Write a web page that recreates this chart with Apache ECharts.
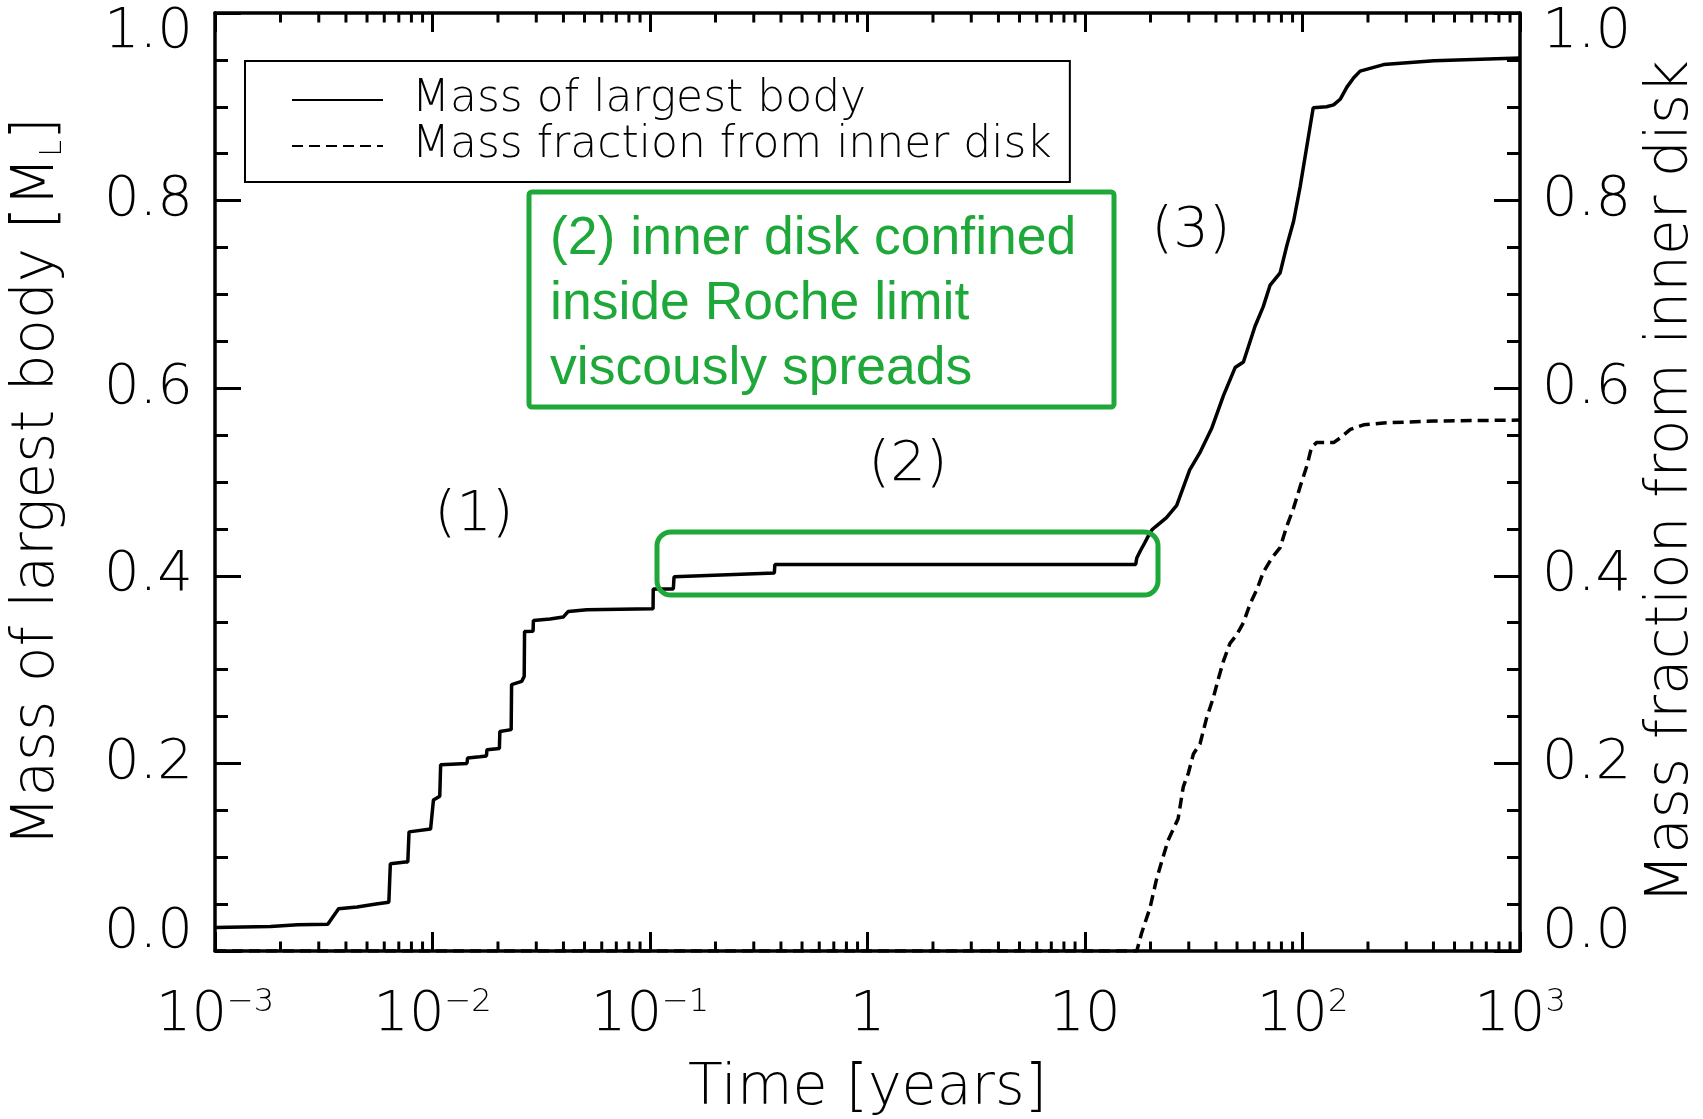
<!DOCTYPE html>
<html><head><meta charset="utf-8">
<script src="https://cdn.jsdelivr.net/npm/echarts@6/dist/echarts.min.js"></script>
<style>html,body{margin:0;padding:0;background:#fff}#c{width:1703px;height:1119px}</style>
</head><body><div id="c"></div><script>
// ---- data ----
const massTime = [0.001, 0.0018, 0.0024, 0.0033, 0.0037, 0.0045, 0.0055, 0.0063, 0.0064, 0.0075, 0.0077, 0.0078, 0.0098, 0.0099, 0.0101, 0.0108, 0.0109, 0.0144, 0.0145, 0.0165, 0.0177, 0.0178, 0.0203, 0.0204, 0.0230, 0.0231, 0.0257, 0.0264, 0.0265, 0.0290, 0.0291, 0.0347, 0.0399, 0.0421, 0.0512, 0.1033, 0.1035, 0.128, 0.129, 0.373, 0.375, 17.1, 17.3, 18.0, 18.8, 19.5, 20.3, 21.0, 23.7, 26.4, 30.3, 33.7, 38.2, 43.3, 49.0, 53.5, 60.5, 66.0, 71.0, 78.9, 84.7, 91.0, 97.5, 112, 114, 129, 139, 149, 160, 172, 184, 236, 402, 1000];
const massLargest = [0.025, 0.026, 0.028, 0.0285, 0.045, 0.047, 0.050, 0.052, 0.093, 0.095, 0.095, 0.127, 0.130, 0.130, 0.161, 0.165, 0.1986, 0.200, 0.2058, 0.207, 0.208, 0.2146, 0.216, 0.234, 0.236, 0.284, 0.2874, 0.2928, 0.3407, 0.341, 0.3524, 0.354, 0.356, 0.362, 0.3638, 0.365, 0.386, 0.386, 0.399, 0.403, 0.412, 0.412, 0.419, 0.427, 0.435, 0.442, 0.449, 0.452, 0.462, 0.475, 0.513, 0.531, 0.557, 0.592, 0.622, 0.628, 0.666, 0.687, 0.710, 0.723, 0.752, 0.778, 0.8145, 0.899, 0.900, 0.900, 0.902, 0.908, 0.921, 0.931, 0.938, 0.945, 0.949, 0.952];
const innerTime = [0.001, 17.3, 18.2, 19.9, 21.3, 22.5, 24.1, 26.8, 28.3, 29.9, 31.5, 33.8, 36.2, 38.9, 41.0, 43.3, 46.4, 49.8, 53.5, 57.4, 61.6, 66.1, 72.3, 78.9, 84.7, 90.9, 97.5, 105, 110, 116, 139, 149, 166, 191, 236, 402, 1000];
const innerFraction = [0, 0, 0.019, 0.046, 0.076, 0.095, 0.118, 0.141, 0.175, 0.190, 0.210, 0.221, 0.248, 0.270, 0.290, 0.309, 0.328, 0.337, 0.350, 0.370, 0.385, 0.404, 0.419, 0.430, 0.453, 0.472, 0.495, 0.518, 0.537, 0.542, 0.542, 0.547, 0.556, 0.561, 0.563, 0.565, 0.566];

const seriesNames = ['Mass of largest body', 'Mass fraction from inner disk'];
const xTickValues = [0.001, 0.01, 0.1, 1, 10, 100, 1000];
const xTickLabels = ['10{sup|\u22123}', '10{sup|\u22122}', '10{sup|\u22121}', '1', '10', '10{sup|2}', '10{sup|3}'];
const yTickValues = [0, 0.2, 0.4, 0.6, 0.8, 1.0];
const yTickLabels = ['0.0', '0.2', '0.4', '0.6', '0.8', '1.0'];
const xMinorMultipliers = [2, 3, 4, 5, 6, 7, 8, 9];
const annotationText = ['(2) inner disk confined', 'inside Roche limit', 'viscously spreads'];
const phaseLabels = ['(1)', '(2)', '(3)'];

// minor tick values for the log axis (positions go through the axis scale)
const xMinorTicks = [];
for (let i = 0; i < xTickValues.length - 1; i++) {
  xMinorMultipliers.forEach(m => xMinorTicks.push([xTickValues[i] * m, 0]));
}

const FONT = "'DejaVu Sans', sans-serif";
const GREEN = '#1fa83a';
const BLACK = '#000';

function xLabel(v) {
  for (let i = 0; i < xTickValues.length; i++) {
    if (Math.abs(v - xTickValues[i]) / xTickValues[i] < 1e-6) return xTickLabels[i];
  }
  return '';
}
function yLabel(v) {
  for (let i = 0; i < yTickValues.length; i++) {
    if (Math.abs(v - yTickValues[i]) < 1e-6) return yTickLabels[i];
  }
  return '';
}

const chart = echarts.init(document.getElementById('c'), null, {renderer: 'canvas'});

const xAxisCommon = {
  type: 'log', logBase: 10, min: 0.001, max: 1000,
  splitLine: {show: false},
  axisLine: {show: true, onZero: false, lineStyle: {color: BLACK, width: 3.5}},
  axisTick: {show: true, inside: true, length: 19, lineStyle: {color: BLACK, width: 3}},
};
const yAxisCommon = {
  type: 'value', min: 0, max: 1, interval: 0.2,
  splitLine: {show: false},
  axisLine: {show: true, onZero: false, lineStyle: {color: BLACK, width: 3.5}},
  axisTick: {show: true, inside: true, length: 26, lineStyle: {color: BLACK, width: 3}},
  minorTick: {show: true, splitNumber: 4, length: 13, lineStyle: {color: BLACK, width: 3}},
  axisLabel: {
    formatter: yLabel, fontFamily: FONT, fontWeight: 200, fontSize: 56, color: BLACK, margin: 22,
    lineHeight: 38, verticalAlignMinLabel: 'bottom', verticalAlignMaxLabel: 'top'
  },
  nameLocation: 'middle',
  nameTextStyle: {fontFamily: FONT, fontWeight: 200, fontSize: 58, color: BLACK, lineHeight: 60}
};

chart.setOption({
  animation: false,
  backgroundColor: '#fff',
  grid: {left: 215, top: 13, right: 183, bottom: 168, containLabel: false, outerBoundsMode: 'none'},
  legend: {
    orient: 'vertical', left: 245, top: 61,
    padding: [16, 18, 13, 46],
    borderColor: BLACK, borderWidth: 2,
    itemWidth: 91, itemHeight: 14, itemGap: 0,
    data: seriesNames,
    itemStyle: {opacity: 0},
    formatter: n => '{t|' + n + '}',
    textStyle: {
      fontFamily: FONT, fontWeight: 200, fontSize: 44, color: BLACK, lineHeight: 46,
      rich: {t: {fontFamily: FONT, fontWeight: 200, fontSize: 44, color: BLACK, lineHeight: 46, padding: [0, 0, 0, 24]}}
    }
  },
  xAxis: [
    Object.assign({}, xAxisCommon, {
      position: 'bottom',
      axisLabel: {
        formatter: xLabel, margin: 36, color: BLACK,
        fontFamily: FONT, fontWeight: 200, fontSize: 56,
        rich: {sup: {fontFamily: FONT, fontWeight: 200, fontSize: 32, color: BLACK, verticalAlign: 'top', lineHeight: 46}}
      },
      name: 'Time [years]', nameLocation: 'middle', nameGap: 110,
      nameTextStyle: {fontFamily: FONT, fontWeight: 200, fontSize: 57, color: BLACK, lineHeight: 56}
    }),
    Object.assign({}, xAxisCommon, {position: 'top', axisLabel: {show: false}})
  ],
  yAxis: [
    Object.assign({}, yAxisCommon, {
      position: 'left', name: 'Mass of largest body [M{sub|L}]', nameGap: 147,
      nameTextStyle: Object.assign({}, yAxisCommon.nameTextStyle, {
        rich: {sub: {fontFamily: FONT, fontWeight: 200, fontSize: 30, color: BLACK, verticalAlign: 'bottom', lineHeight: 48}}
      })
    }),
    Object.assign({}, yAxisCommon, {position: 'right', name: 'Mass fraction from inner disk', nameGap: 119})
  ],
  series: [
    {
      name: seriesNames[0], type: 'line', xAxisIndex: 0, yAxisIndex: 0,
      data: massTime.map((t, i) => [t, massLargest[i]]),
      symbol: 'none', showSymbol: false, z: 5,
      lineStyle: {color: BLACK, width: 3.5}, itemStyle: {color: BLACK}
    },
    {
      name: seriesNames[1], type: 'line', xAxisIndex: 0, yAxisIndex: 1,
      data: innerTime.map((t, i) => [t, innerFraction[i]]),
      symbol: 'none', showSymbol: false, z: 5,
      lineStyle: {color: BLACK, width: 3.5, type: [11, 6]}, itemStyle: {color: BLACK}
    },
    {
      name: 'xMinorTicks', type: 'custom', xAxisIndex: 0, yAxisIndex: 0, silent: true, clip: false,
      data: xMinorTicks,
      renderItem: function (params, api) {
        const v = api.value(0);
        const pb = api.coord([v, 0]);
        const pt = api.coord([v, 1]);
        return {type: 'group', children: [
          {type: 'line', shape: {x1: pb[0], y1: pb[1], x2: pb[0], y2: pb[1] - 9.5}, style: {stroke: BLACK, lineWidth: 3}},
          {type: 'line', shape: {x1: pt[0], y1: pt[1], x2: pt[0], y2: pt[1] + 9.5}, style: {stroke: BLACK, lineWidth: 3}}
        ]};
      }
    }
  ],
  graphic: [
    {type: 'rect', z: 20, shape: {x: 529, y: 192, width: 585, height: 215, r: 3}, style: {fill: 'none', stroke: GREEN, lineWidth: 5}},
    {type: 'text', z: 20, x: 550, y: 207, style: {text: annotationText.join('\n'), fontFamily: "'Liberation Sans', Arial, sans-serif", fontSize: 53.5, lineHeight: 65, fill: GREEN, align: 'left', verticalAlign: 'top'}},
    {type: 'rect', z: 20, shape: {x: 657, y: 532, width: 501, height: 63, r: 14}, style: {fill: 'none', stroke: GREEN, lineWidth: 5}},
    {type: 'text', z: 20, x: 474, y: 515, style: {text: phaseLabels[0], fontFamily: FONT, fontWeight: 200, fontSize: 56, fill: BLACK, align: 'center', verticalAlign: 'middle'}},
    {type: 'text', z: 20, x: 908, y: 465, style: {text: phaseLabels[1], fontFamily: FONT, fontWeight: 200, fontSize: 56, fill: BLACK, align: 'center', verticalAlign: 'middle'}},
    {type: 'text', z: 20, x: 1191, y: 231, style: {text: phaseLabels[2], fontFamily: FONT, fontWeight: 200, fontSize: 56, fill: BLACK, align: 'center', verticalAlign: 'middle'}}
  ]
});
</script></body></html>
